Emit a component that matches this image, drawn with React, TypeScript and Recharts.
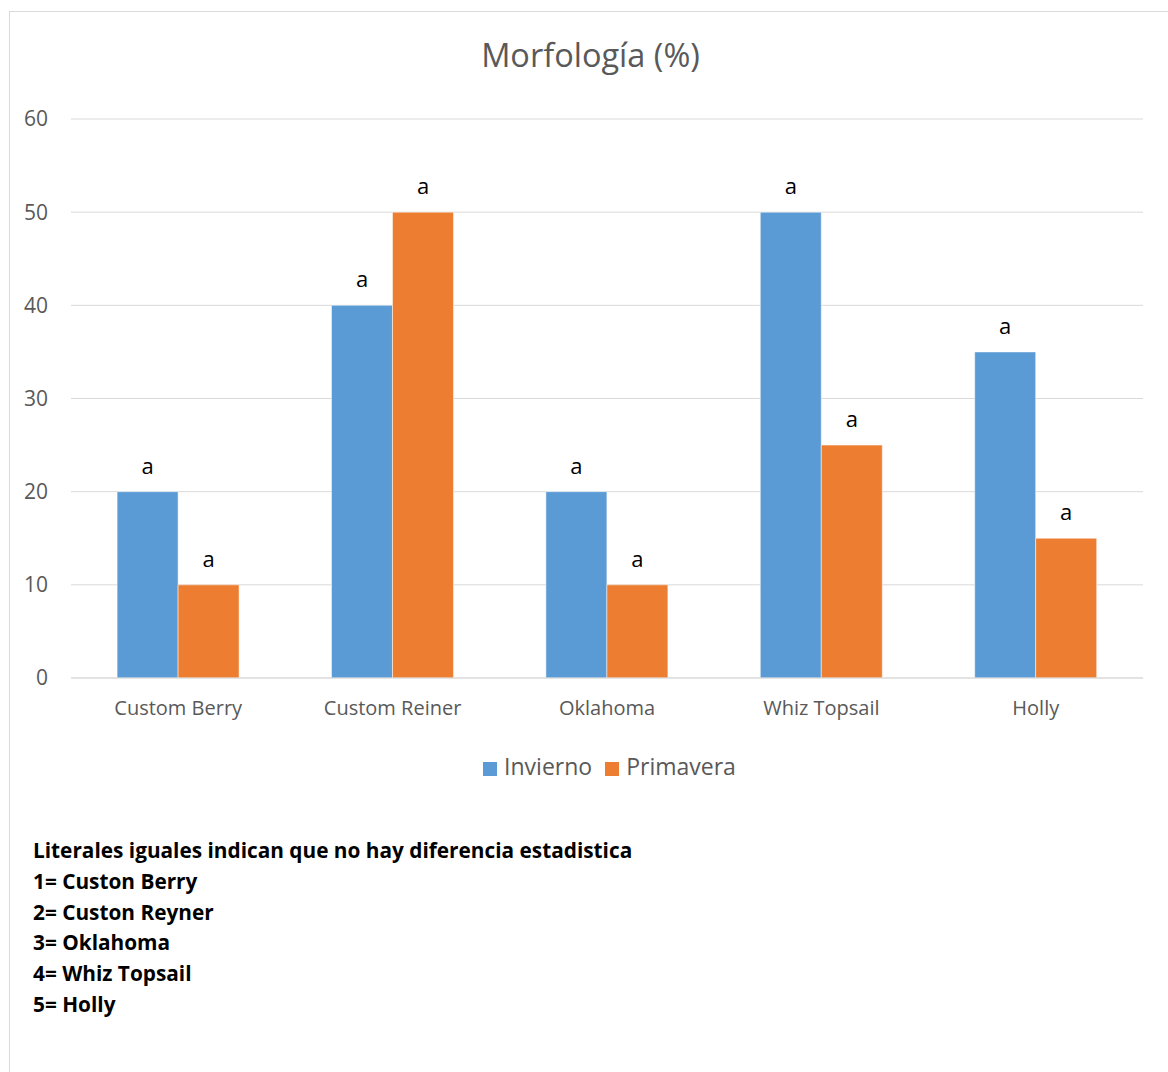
import { BarChart, Bar, XAxis, YAxis, CartesianGrid, Legend, LabelList } from "recharts";

const varieties = ["Custom Berry", "Custom Reiner", "Oklahoma", "Whiz Topsail", "Holly"];
const invierno = [20, 40, 20, 50, 35];
const primavera = [10, 50, 10, 25, 15];
const invLetters = ["a", "a", "a", "a", "a"];
const priLetters = ["a", "a", "a", "a", "a"];
const yTicks = [0, 10, 20, 30, 40, 50, 60];
const notes = [
  "Literales iguales indican que no hay diferencia estadistica",
  "1= Custon Berry",
  "2= Custon Reyner",
  "3= Oklahoma",
  "4= Whiz Topsail",
  "5= Holly",
];

const data = varieties.map((name, i) => ({
  name,
  Invierno: invierno[i],
  Primavera: primavera[i],
  invLetter: invLetters[i],
  priLetter: priLetters[i],
}));

const font = "'Open Sans', sans-serif";
const gray = "#595959";

export default function App() {
  return (
    <div
      style={{
        position: "absolute",
        left: 0,
        top: 0,
        width: 1168,
        height: 1072,
        overflow: "hidden",
        background: "#fff",
        fontFamily: font,
      }}
    >
      {/* chart frame */}
      <div
        style={{
          position: "absolute",
          left: 9,
          top: 11,
          width: 1200,
          height: 1100,
          border: "1px solid #d9d9d9",
        }}
      />
      <div
        style={{
          position: "absolute",
          left: 0,
          top: 35,
          width: 1181,
          textAlign: "center",
          fontSize: 32.5,
          lineHeight: "40px",
          color: gray,
        }}
      >
        Morfología (%)
      </div>
      <div style={{ position: "absolute", left: 0, top: 0 }}>
        <BarChart
          width={1168}
          height={800}
          data={data}
          margin={{ top: 119, right: 25, bottom: 92, left: 0 }}
          barCategoryGap="21.5%"
          barGap={0}
          style={{ fontFamily: font }}
        >
          <CartesianGrid vertical={false} stroke="#d9d9d9" />
          <XAxis
            dataKey="name"
            stroke="#d9d9d9"
            tickLine={false}
            tickSize={0}
            tickMargin={23}
            tick={{ fill: gray, fontSize: 20 }}
          />
          <YAxis
            domain={[0, 60]}
            ticks={yTicks}
            width={71}
            axisLine={false}
            tickLine={false}
            tickSize={0}
            tickMargin={23}
            tick={{ fill: gray, fontSize: 21 }}
          />
          <Legend
            layout="horizontal"
            verticalAlign="middle"
            align="center"
            iconType="square"
            iconSize={14}
            wrapperStyle={{ top: 750, left: 0, width: 1232, fontSize: 23 }}
            formatter={(value) => (
              <span style={{ color: gray, marginLeft: 3, marginRight: 3 }}>{value}</span>
            )}
          />
          <Bar dataKey="Invierno" fill="#5b9bd5" stroke="#ffffff" strokeOpacity={0.5} isAnimationActive={false}>
            <LabelList dataKey="invLetter" position="top" offset={18} fill="#000" fontSize={22} />
          </Bar>
          <Bar dataKey="Primavera" fill="#ed7d31" stroke="#ffffff" strokeOpacity={0.5} isAnimationActive={false}>
            <LabelList dataKey="priLetter" position="top" offset={18} fill="#000" fontSize={22} />
          </Bar>
        </BarChart>
      </div>
      <div
        style={{
          position: "absolute",
          left: 33,
          top: 835,
          fontSize: 20.8,
          lineHeight: "30.8px",
          fontWeight: 700,
          color: "#000",
        }}
      >
        {notes.map((n) => (
          <div key={n}>{n}</div>
        ))}
      </div>
    </div>
  );
}
